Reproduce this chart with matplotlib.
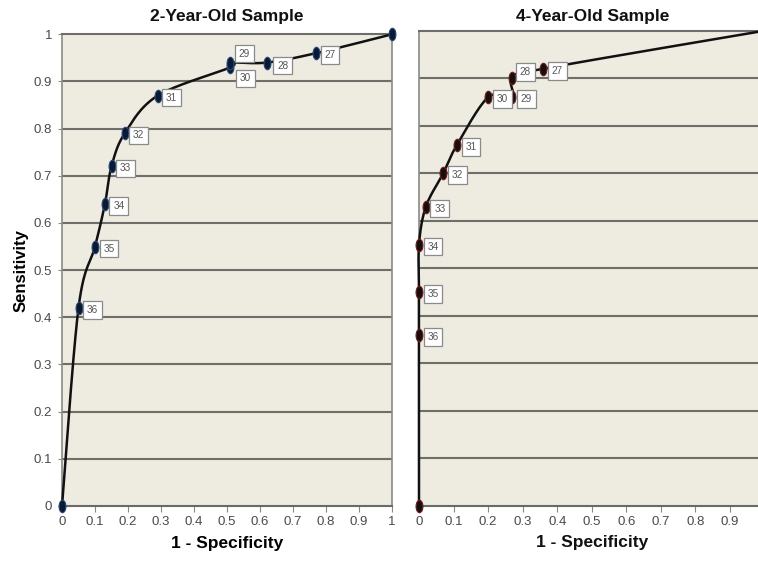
import numpy as np
import matplotlib
matplotlib.use("Agg")
import matplotlib.pyplot as plt
from matplotlib.path import Path
from matplotlib.transforms import Affine2D

plt.rcParams['font.family'] = ['Liberation Sans', 'DejaVu Sans']

# ---- data ----
cutoffs_2 = ["", "36", "35", "34", "33", "32", "31", "30", "29", "28", "27", ""]
fpr_2 = [0.0, 0.05, 0.10, 0.13, 0.15, 0.19, 0.29, 0.51, 0.51, 0.62, 0.77, 1.0]
sens_2 = [0.0, 0.42, 0.55, 0.64, 0.72, 0.79, 0.87, 0.93, 0.94, 0.94, 0.96, 1.0]

cutoffs_4 = ["", "36", "35", "34", "33", "32", "31", "30", "29", "28", "27", ""]
fpr_4 = [0.0, 0.0, 0.0, 0.0, 0.02, 0.07, 0.11, 0.20, 0.27, 0.27, 0.36, 1.0]
sens_4 = [0.0, 0.36, 0.45, 0.55, 0.63, 0.70, 0.76, 0.86, 0.86, 0.90, 0.92, 1.0]

x_ticks = [0, 0.1, 0.2, 0.3, 0.4, 0.5, 0.6, 0.7, 0.8, 0.9, 1.0]
x_ticklabels = ["0", "0.1", "0.2", "0.3", "0.4", "0.5", "0.6", "0.7", "0.8", "0.9", "1"]
y_ticks = x_ticks
y_ticklabels = x_ticklabels

# label offsets (pixels) per cutoff label (style only)
offsets_2 = {"29": (14, 9), "30": (15, -11), "28": (16, -3)}
offsets_4 = {"28": (13, 6)}

BG = '#EEEBE1'
GRID = '#6e6e6a'


def catmull(xs, ys, n=30):
    P = np.column_stack([xs, ys]).astype(float)
    P = np.vstack([P[0], P, P[-1]])
    out = []
    for i in range(1, len(P) - 2):
        p0, p1, p2, p3 = P[i - 1], P[i], P[i + 1], P[i + 2]
        t = np.linspace(0, 1, n)[:, None]
        seg = 0.5 * ((2 * p1) + (-p0 + p2) * t + (2 * p0 - 5 * p1 + 4 * p2 - p3) * t ** 2
                     + (-p0 + 3 * p1 - 3 * p2 + p3) * t ** 3)
        out.append(seg)
    out = np.vstack(out)
    return out[:, 0], out[:, 1]


ell = Path.unit_circle().transformed(Affine2D().scale(0.55, 1.0))

fig = plt.figure(figsize=(7.58, 5.62), dpi=100)
W, H = 758, 562


def make_ax(left, right, top, bottom=506):
    return fig.add_axes([left / W, (H - bottom) / H, (right - left) / W, (bottom - top) / H])


ax1 = make_ax(62, 392, 34.3)
ax2 = make_ax(419, 764.6, 30.7)


def style(ax, show_y, nx):
    ax.set_facecolor(BG)
    ax.set_xlim(0, 1)
    ax.set_ylim(0, 1)
    for v in y_ticks[1:-1]:
        ax.axhline(v, color=GRID, lw=1.5, zorder=1)
    ax.set_xticks(x_ticks[:nx])
    ax.set_xticklabels(x_ticklabels[:nx])
    if show_y:
        ax.set_yticks(y_ticks)
        ax.set_yticklabels(y_ticklabels)
        ax.tick_params(axis='y', length=3, color='#888888', labelsize=9.5,
                       labelcolor='#4a4a4a', pad=4)
    else:
        ax.set_yticks([])
    ax.tick_params(axis='x', length=4, color='#888888', labelsize=9.5,
                   labelcolor='#4a4a4a', pad=3)
    for s in ['left', 'right', 'top']:
        ax.spines[s].set_color('#8a8a86')
        ax.spines[s].set_linewidth(1.2)
    ax.spines['bottom'].set_color('#6a6a66')
    ax.spines['bottom'].set_linewidth(1.5)
    ax.spines['top'].set_color(GRID)
    ax.spines['top'].set_linewidth(1.5)


def draw(ax, xs, ys, labels, offs, fc, ec):
    cx, cy = catmull(xs, ys)
    ax.plot(cx, cy, color='#111111', lw=1.8, zorder=3, clip_on=False)
    ax.plot(xs, ys, linestyle='none', marker=ell, markersize=9,
            markerfacecolor=fc, markeredgecolor=ec, markeredgewidth=0.8,
            zorder=4, clip_on=False)
    for x, y, lab in zip(xs, ys, labels):
        if not lab:
            continue
        dx, dy = offs.get(lab, (14, -2))
        ax.annotate(lab, (x, y), xytext=(dx * 0.72, dy * 0.72), textcoords='offset points',
                    ha='center', va='center', fontsize=7.2, color='#555555', zorder=5,
                    bbox=dict(boxstyle='square,pad=0.38', fc='white', ec='#8a8a8a', lw=0.9))


style(ax1, True, len(x_ticks))
style(ax2, False, len(x_ticks) - 1)
draw(ax1, fpr_2, sens_2, cutoffs_2, offsets_2, '#0b1a33', '#2a4a7a')
draw(ax2, fpr_4, sens_4, cutoffs_4, offsets_4, '#111111', '#7a1a1a')

ax1.set_ylabel('Sensitivity', fontsize=12, fontweight='bold', labelpad=4)
ax1.set_xlabel('1 - Specificity', fontsize=12.5, fontweight='bold', labelpad=6)
fig.text((62 + 392) / 2 / W, 1 - 17 / H, '2-Year-Old Sample', ha='center', va='center',
         fontsize=12.5, fontweight='bold', color='#111111')
fig.text(593 / W, 1 - 17 / H, '4-Year-Old Sample', ha='center', va='center',
         fontsize=12.5, fontweight='bold', color='#111111')
fig.text(592 / W, 1 - 543 / H, '1 - Specificity', ha='center', va='center',
         fontsize=12.5, fontweight='bold', color='#111111')

fig.savefig('out.png', dpi=100)
